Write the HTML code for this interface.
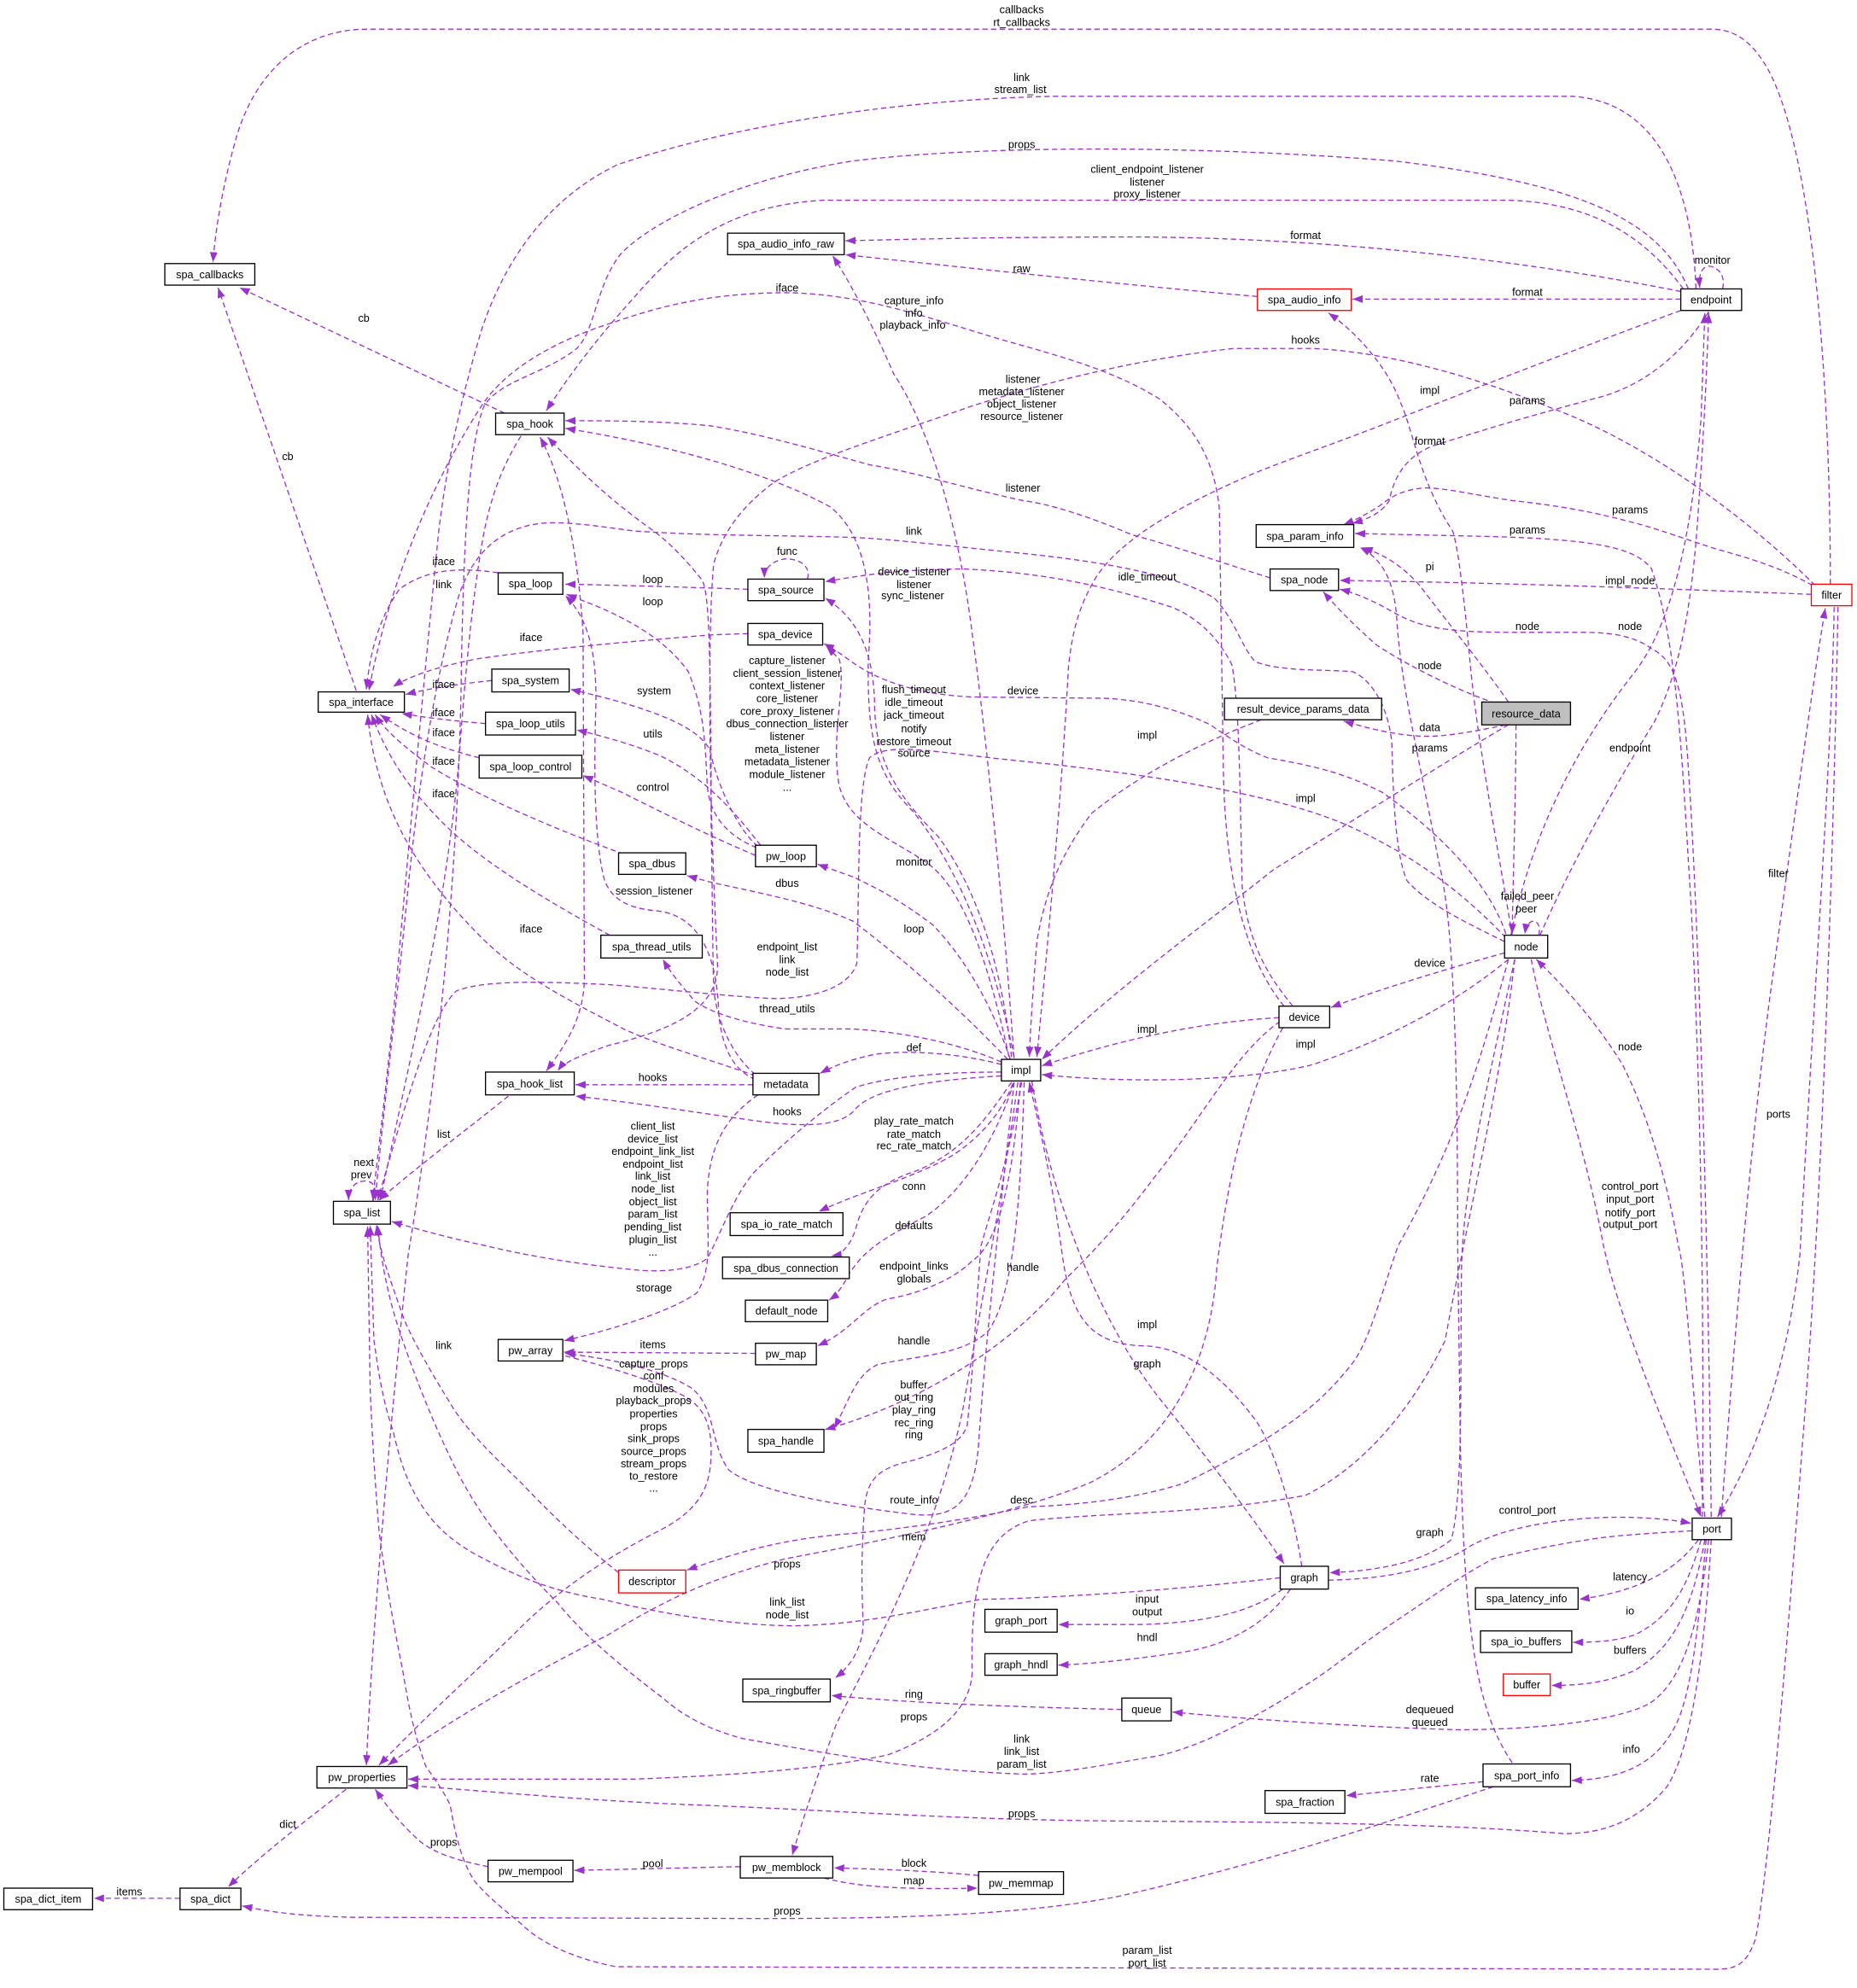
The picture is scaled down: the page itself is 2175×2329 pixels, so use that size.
<!DOCTYPE html>
<html><head><meta charset="utf-8"><style>
html,body{margin:0;padding:0;background:#fff;}
svg{display:block;}
text{font-family:"Liberation Sans",Arial,sans-serif;font-size:8.5px;fill:#000;text-anchor:middle;}
.e{fill:none;stroke:#9a32cd;stroke-width:0.9;stroke-dasharray:4.2,2.6;marker-end:url(#a);}
.n{fill:#fff;stroke:#000;stroke-width:0.9;}
.r{fill:#fff;stroke:#ff0000;stroke-width:0.9;}
.g{fill:#bfbfbf;stroke:#000;stroke-width:0.9;}
</style></head><body>
<svg width="2175" height="2329" viewBox="0 0 1465 1568.8" xmlns="http://www.w3.org/2000/svg">
<defs>
<marker id="a" markerUnits="userSpaceOnUse" markerWidth="8" markerHeight="6" viewBox="0 0 8 6" refX="8" refY="3" orient="auto-start-reverse"><path d="M0,0 L8,3 L0,6 z" fill="#9a32cd"/></marker>
</defs>
<rect width="1465" height="1568.8" fill="#fff"/>
<g>
<path class="e" d="M1444,461 C1444,300 1430,120 1395,55 C1382,32 1368,23 1350,23 L290,23 C235,23 200,60 186,110 C176,145 170,180 168,207"/>
<path class="e" d="M1338,228 C1335,150 1310,80 1240,76 L830,76 C700,79 575,100 487,130 C425,160 395,215 380,260 C362,320 352,370 346,420 C336,520 325,640 315,750 C305,860 298,910 294,947"/>
<path class="e" d="M1332,228 C1310,175 1250,145 1100,127 C950,115 780,114 673,127 C590,140 520,170 490,200 C470,225 470,260 455,275 C430,295 395,300 382,320 C370,350 366,420 364,525 C362,700 342,870 322,990 C305,1150 293,1300 289,1393"/>
<path class="e" d="M1328,228 C1300,190 1260,160 1190,158 L650,158 C570,162 530,200 500,235 C470,268 450,295 431,324"/>
<path class="e" d="M1326,230 C1200,205 1050,188 900,187 C780,187 710,189 667,190"/>
<path class="e" d="M1359,228 C1362,214 1352,210 1348,210 C1342,211 1340,217 1341,227"/>
<path class="e" d="M1326,236 L1067,236"/>
<path class="e" d="M992,234 C900,226 750,210 667,201"/>
<path class="e" d="M1013,794 C985,760 966,700 965,600 L962,402 C958,360 940,335 915,315 C880,293 840,282 790,268 C730,250 680,232 621,231 C560,231 520,242 485,254 C440,268 400,290 380,320 C335,390 305,470 291,545"/>
<path class="e" d="M800,835 C792,720 778,580 767,500 C757,420 735,340 705,295 C690,260 672,225 657,202"/>
<path class="e" d="M1432,462 C1380,410 1300,350 1224,322 C1170,300 1100,278 1036,275 L973,275 C900,283 830,300 765,321 C700,344 640,362 610,381 C585,400 570,420 563,445 C560,480 560,520 560,560 C560,620 563,700 566,760 C568,800 520,815 480,825 C460,832 445,838 440,845"/>
<path class="e" d="M1326,245 C1280,262 1200,292 1099,332 C1040,355 1000,368 977,379 C930,400 885,425 865,455 C850,480 846,500 843,525 C838,620 828,730 818,834"/>
<path class="e" d="M1348,246 C1330,275 1300,305 1256,315 C1220,325 1193,332 1130,352 C1110,360 1100,375 1096,395 C1090,405 1078,410 1067,413"/>
<path class="e" d="M1430,462 C1400,445 1370,438 1350,432 C1320,422 1300,415 1287,412 C1250,402 1220,398 1193,395 C1160,390 1140,385 1124,385 C1110,386 1100,390 1090,398 C1080,405 1070,410 1060,414"/>
<path class="e" d="M1343,1197 C1345,1000 1340,800 1332,680 C1325,560 1320,500 1303,449 C1290,432 1260,425 1160,423 L1069,421"/>
<path class="e" d="M1193,1391 C1165,1350 1155,1290 1152,1133 L1150,983 C1150,800 1145,720 1135,680 C1120,600 1105,540 1102,489 C1100,460 1092,442 1073,432"/>
<path class="e" d="M1429,469 C1350,466 1200,460 1057,458"/>
<path class="e" d="M1350,1197 C1348,1000 1340,700 1330,580 C1326,540 1320,520 1303,512 C1290,502 1271,499 1250,499 L1193,499 C1140,499 1120,495 1099,483 C1085,475 1070,468 1057,465"/>
<path class="e" d="M1180,555 C1150,545 1110,525 1086,509 C1070,495 1055,480 1044,467"/>
<path class="e" d="M1190,554 C1170,525 1145,495 1120,462 C1105,445 1090,437 1075,432"/>
<path class="e" d="M1188,572 C1160,578 1140,581 1127,581 C1110,581 1090,578 1060,569"/>
<path class="e" d="M1190,572 C1150,595 1067,648 1005,686 C950,730 880,780 822,836"/>
<path class="e" d="M1002,456 C970,446 930,432 893,422 C860,408 830,398 807,395 C760,385 720,372 687,367 C650,357 600,342 560,336 C520,332 480,332 446,332"/>
<path class="e" d="M800,834 C785,760 760,690 720,640 C690,610 684,580 685,520 C690,460 680,420 655,400 C600,370 520,350 446,338"/>
<path class="e" style="marker-start:url(#a)" d="M426,345 C440,370 455,420 460,500 L461,774 C460,800 450,820 431,845"/>
<path class="e" d="M596,848 C580,835 566,810 563,780 C562,740 562,700 561,650 L561,606 C560,520 560,470 554,458 C540,440 525,425 510,415 C490,400 470,385 432,345"/>
<path class="e" d="M411,344 C395,370 386,395 380,430 C372,480 368,520 362,600 C352,720 320,850 300,947"/>
<path class="e" d="M398,326 L189,227"/>
<path class="e" d="M281,545 L172,227"/>
<path class="e" d="M393,452 C360,447 335,450 315,465 C298,490 292,515 289,544"/>
<path class="e" d="M590,465 C560,464 500,462 446,461"/>
<path class="e" d="M597,669 C575,660 560,645 558,620 C556,580 555,560 543,530 C525,505 498,490 470,478 L447,469"/>
<path class="e" d="M637,457 C640,446 630,441 620,441 C610,442 603,448 603,456"/>
<path class="e" d="M1020,794 C1000,770 985,745 980,700 C978,620 978,560 972,525 C960,500 940,485 924,479 C880,465 830,452 760,449 C720,449 690,452 651,459"/>
<path class="e" d="M798,834 C790,760 770,700 740,660 C705,625 692,600 690,560 C690,520 680,490 651,472"/>
<path class="e" d="M1188,737 C1176,700 1140,660 1090,625 C1060,610 1040,605 1000,598 C985,592 975,586 955,572 C930,560 900,552 870,551 L767,550 C720,548 690,535 673,523 C662,515 656,511 650,508"/>
<path class="e" d="M796,834 C780,760 760,700 730,680 C700,660 670,650 662,620 C655,580 668,540 662,520 L652,510"/>
<path class="e" d="M590,500 L561,501 C500,506 430,512 376,520 C345,526 322,534 310,542"/>
<path class="e" d="M598,668 C582,655 566,620 560,592 C552,575 520,560 450,544"/>
<path class="e" d="M600,667 C585,648 560,615 520,596 C500,588 480,582 455,576"/>
<path class="e" d="M596,675 C560,660 520,640 490,625 L460,612"/>
<path class="e" d="M388,537 C360,540 340,543 320,548"/>
<path class="e" d="M383,571 C360,569 340,567 317,563"/>
<path class="e" d="M378,598 C355,592 330,585 300,564"/>
<path class="e" d="M492,674 C440,655 380,630 340,605 C320,590 305,578 296,564"/>
<path class="e" d="M481,738 C430,710 380,680 350,650 C320,620 305,595 293,564"/>
<path class="e" d="M596,849 C560,836 520,825 492,812 C450,790 410,770 380,740 C345,705 320,670 305,630 C296,605 292,585 290,564"/>
<path class="e" d="M795,836 C770,810 730,770 673,727 C640,712 600,705 560,696 L542,691"/>
<path class="e" d="M797,836 C785,800 765,760 736,730 C710,710 690,700 673,692 L645,682"/>
<path class="e" d="M596,852 C580,845 570,830 567,800 C566,760 555,724 520,719 C498,717 484,712 477,695 C470,670 468,620 470,560 C471,520 466,490 446,470"/>
<path class="e" d="M1188,740 C1150,700 1110,672 1060,650 C1000,625 900,610 800,600 C740,594 700,585 686,598 C676,620 678,700 676,760 C670,780 640,788 610,788 C570,786 520,780 480,777 C420,774 380,774 360,782 C340,800 320,870 298,947"/>
<path class="e" d="M790,838 C760,825 720,815 673,812 L620,812 C590,808 562,800 548,790 C536,776 528,766 523,757"/>
<path class="e" d="M790,840 C760,832 720,828 690,832 C672,836 660,840 647,847"/>
<path class="e" d="M790,849 C740,852 690,858 675,875 C665,888 640,890 600,885 C550,878 500,870 454,865"/>
<path class="e" d="M594,856 L454,856"/>
<path class="e" d="M401,865 C370,890 330,920 299,947"/>
<path class="e" d="M294,948 C298,938 295,932 288,932 C280,932 275,938 275,947"/>
<path class="e" d="M790,846 C740,846 700,850 675,858 C650,875 620,900 595,925 C578,945 568,975 558,993 C545,1003 520,1004 500,1002 C460,998 420,992 383,983 C350,976 330,970 309,964"/>
<path class="e" d="M799,855 C790,880 770,900 751,912 C720,930 680,940 646,956"/>
<path class="e" d="M798,854 C780,880 760,910 720,925 C690,935 680,950 675,970 C670,985 663,990 656,991"/>
<path class="e" d="M800,854 C785,900 760,940 730,960 C690,980 680,990 670,1005 C665,1015 660,1022 654,1026"/>
<path class="e" d="M805,854 C800,920 790,980 767,995 C750,1012 720,1022 700,1025 C680,1032 672,1050 645,1062"/>
<path class="e" d="M808,854 C805,950 800,1020 780,1050 C760,1070 720,1070 692,1077 C675,1085 670,1105 658,1127"/>
<path class="e" d="M1010,806 C975,830 950,880 910,930 C880,970 860,990 840,1010 C800,1060 740,1095 690,1115 C672,1122 662,1125 651,1128"/>
<path class="e" d="M806,854 C795,920 780,960 774,983 C770,1030 768,1080 763,1125 C758,1140 740,1146 722,1152 C695,1158 684,1165 682,1190 C679,1230 680,1260 681,1282 C680,1300 672,1314 659,1324"/>
<path class="e" d="M800,854 C790,950 778,1050 772,1140 C768,1190 750,1198 720,1195 C680,1190 600,1180 575,1160 C560,1140 565,1110 545,1095 C520,1080 480,1072 446,1068"/>
<path class="e" d="M598,864 C575,880 560,900 558,940 C558,980 562,1000 550,1020 C530,1035 480,1050 445,1058"/>
<path class="e" d="M596,1068 L445,1067"/>
<path class="e" d="M446,1070 C470,1076 520,1090 542,1103 C556,1112 561,1125 561,1145 C561,1170 555,1190 520,1208 C480,1228 440,1255 410,1285 C380,1315 340,1350 299,1393"/>
<path class="e" d="M803,854 C790,950 770,1050 760,1110 C740,1210 690,1300 660,1360 C645,1400 632,1440 625,1464"/>
<path class="e" d="M1190,757 C1170,830 1150,900 1103,983 C1090,1020 1080,1060 1066,1077 C1040,1110 1010,1133 935,1170 C900,1182 850,1188 811,1189 C760,1200 700,1208 662,1211 C620,1215 590,1222 542,1239"/>
<path class="e" d="M488,1241 C455,1215 430,1190 411,1170 C385,1145 365,1125 355,1107 C335,1075 322,1050 318,1039 C308,1010 300,990 297,967"/>
<path class="e" d="M1010,1245 C900,1258 800,1262 774,1262 C720,1272 680,1282 625,1283 C560,1282 500,1268 475,1262 C430,1255 400,1240 374,1226 C355,1215 345,1205 336,1193 C320,1170 315,1150 310,1129 C300,1100 297,1070 295,1058 L292,967"/>
<path class="e" d="M1335,1208 C1300,1210 1270,1212 1253,1215 C1220,1220 1200,1225 1178,1230 C1150,1245 1130,1260 1103,1278 C1070,1300 1050,1318 1028,1331 C1000,1350 975,1362 954,1372 C935,1380 920,1385 905,1387 C860,1395 830,1400 806,1400 C760,1398 730,1395 700,1391 C660,1385 620,1378 586,1372 C560,1365 540,1355 523,1340 C490,1315 460,1290 440,1265 C410,1235 380,1200 360,1160 C340,1120 325,1080 315,1050 C305,1020 300,990 298,967"/>
<path class="e" d="M1450,479 C1448,600 1440,900 1425,1100 C1410,1300 1395,1480 1385,1530 C1378,1550 1370,1554 1354,1554 L486,1552 C450,1545 425,1532 411,1518 C395,1505 383,1495 374,1484 C362,1465 358,1440 355,1424 C348,1410 340,1400 336,1394 C327,1370 322,1345 318,1320 C310,1280 303,1240 299,1208 C295,1160 293,1120 292,1096 L290,968"/>
<path class="e" d="M1358,1197 C1365,1100 1380,900 1400,760 C1415,650 1430,540 1440,480"/>
<path class="e" d="M1447,479 C1445,600 1430,800 1420,990 C1410,1080 1385,1150 1355,1197"/>
<path class="e" d="M1345,1197 C1335,1100 1330,1000 1324,983 C1315,930 1300,880 1280,840 C1255,800 1230,775 1212,757"/>
<path class="e" d="M1208,757 C1220,820 1250,900 1265,983 C1280,1050 1320,1140 1342,1197"/>
<path class="e" d="M1187,752 C1150,762 1090,780 1050,795"/>
<path class="e" d="M1190,757 C1150,790 1100,818 1036,840 C990,852 900,856 822,848"/>
<path class="e" d="M1009,803 C960,806 900,815 822,841"/>
<path class="e" d="M995,568 C950,585 900,610 861,642 C840,670 825,700 818,743 C815,780 813,810 812,834"/>
<path class="e" d="M1215,738 C1240,680 1280,610 1305,570 C1325,530 1335,480 1340,400 C1345,330 1347,280 1348,247"/>
<path class="e" d="M1192,738 C1210,650 1250,580 1290,530 C1320,490 1335,420 1342,330 L1345,247"/>
<path class="e" d="M1214,738 C1217,725 1205,722 1203,737"/>
<path class="e" d="M1195,757 C1175,850 1155,930 1153,1000 C1152,1100 1154,1180 1145,1215 C1120,1235 1080,1240 1049,1241"/>
<path class="e" d="M1027,1236 C1022,1200 1005,1140 990,1120 C960,1080 930,1062 900,1062 C860,1060 845,1040 838,990 C830,930 820,890 812,854"/>
<path class="e" d="M814,853 C830,950 870,1050 920,1110 C960,1160 990,1200 1013,1234"/>
<path class="e" d="M1048,1247 C1090,1246 1130,1240 1160,1220 C1200,1198 1280,1192 1334,1202"/>
<path class="e" d="M1340,1215 C1325,1235 1300,1255 1246,1262"/>
<path class="e" d="M1342,1215 C1332,1250 1320,1275 1290,1290 C1275,1295 1260,1296 1241,1296"/>
<path class="e" d="M1345,1215 C1335,1270 1320,1300 1290,1318 C1270,1327 1250,1330 1224,1330"/>
<path class="e" d="M1348,1215 C1340,1290 1325,1330 1300,1345 C1270,1360 1200,1365 1150,1365 C1080,1363 1000,1358 925,1351"/>
<path class="e" d="M1346,1215 C1340,1280 1335,1340 1320,1365 C1305,1392 1280,1404 1240,1405"/>
<path class="e" d="M1350,1215 C1345,1300 1335,1380 1315,1410 C1290,1440 1260,1447 1234,1447 C1150,1440 1050,1438 880,1437 C750,1436 650,1428 540,1424 C450,1420 380,1413 322,1409"/>
<path class="e" d="M1170,1406 L1062,1417"/>
<path class="e" d="M1178,1410 C1100,1436 1000,1470 880,1497 C800,1512 700,1514 600,1514 L280,1513 C230,1512 210,1508 191,1504"/>
<path class="e" d="M1012,1254 C990,1270 960,1280 900,1282 L835,1282"/>
<path class="e" d="M1018,1254 C1000,1280 970,1300 924,1305 C890,1310 860,1313 835,1314"/>
<path class="e" d="M885,1349 C800,1347 720,1344 656,1338"/>
<path class="e" d="M584,1473 L453,1476"/>
<path class="e" d="M772,1480 C730,1476 690,1475 658,1474"/>
<path class="e" d="M650,1482 C680,1490 720,1491 771,1490"/>
<path class="e" d="M385,1473 C360,1468 340,1462 328,1450 C315,1438 305,1425 296,1412"/>
<path class="e" d="M273,1412 C250,1430 210,1460 180,1489"/>
<path class="e" d="M142,1498 L74,1498"/>
<path class="e" d="M1012,811 C985,860 970,920 960,1000 C955,1080 920,1140 860,1170 C800,1195 700,1215 620,1230 C560,1245 520,1265 480,1290 C420,1320 350,1360 306,1393"/>
<path class="e" d="M1195,757 C1185,850 1160,950 1140,1058 C1110,1120 1070,1160 1030,1180 C950,1195 880,1193 812,1200 C780,1210 765,1240 767,1320 C765,1350 740,1370 700,1385 C650,1395 600,1400 500,1404 L322,1404"/>
<path class="e" d="M1187,743 C1150,725 1125,712 1110,695 C1099,670 1099,610 1098,586 C1095,555 1080,535 1067,530 C1040,528 1010,530 990,522 C978,508 975,490 958,472 C930,455 880,444 800,436 C740,430 700,425 670,424 C600,422 560,423 500,419 C470,415 440,410 420,414 C390,420 372,440 362,470 C347,520 332,600 322,700 C312,800 302,880 296,947"/>
<path class="e" d="M1193,738 C1180,660 1165,580 1160,525 C1155,470 1150,430 1146,419 C1120,380 1115,340 1105,318 C1095,290 1070,262 1048,247"/>
<path class="e" d="M1196,572 C1196,620 1194,680 1193,737"/>
</g>
<g>
<rect class="n" x="130" y="208" width="71" height="17"/><text x="165.5" y="219.5">spa_callbacks</text>
<rect class="n" x="391" y="326" width="54" height="17"/><text x="418" y="337.5">spa_hook</text>
<rect class="n" x="393" y="452" width="51" height="17"/><text x="418.5" y="463.5">spa_loop</text>
<rect class="n" x="574" y="184" width="92" height="17"/><text x="620" y="195.5">spa_audio_info_raw</text>
<rect class="n" x="590" y="457" width="60" height="17"/><text x="620" y="468.5">spa_source</text>
<rect class="n" x="590" y="492" width="59" height="17"/><text x="619.5" y="503.5">spa_device</text>
<rect class="r" x="992" y="228" width="74" height="17"/><text x="1029" y="239.5">spa_audio_info</text>
<rect class="n" x="1326" y="228" width="48" height="17"/><text x="1350" y="239.5">endpoint</text>
<rect class="n" x="991" y="414" width="77" height="18"/><text x="1029.5" y="426">spa_param_info</text>
<rect class="n" x="1002" y="449" width="54" height="17"/><text x="1029" y="460.5">spa_node</text>
<rect class="r" x="1429" y="461" width="32" height="17"/><text x="1445" y="472.5">filter</text>
<rect class="n" x="251" y="546" width="68" height="16"/><text x="285" y="557">spa_interface</text>
<rect class="n" x="388" y="528" width="61" height="18"/><text x="418.5" y="540">spa_system</text>
<rect class="n" x="383" y="562" width="71" height="18"/><text x="418.5" y="574">spa_loop_utils</text>
<rect class="n" x="378" y="596" width="81" height="18"/><text x="418.5" y="608">spa_loop_control</text>
<rect class="n" x="383" y="846" width="70" height="18"/><text x="418" y="858">spa_hook_list</text>
<rect class="n" x="263" y="948" width="45" height="18"/><text x="285.5" y="960">spa_list</text>
<rect class="n" x="596" y="667" width="48" height="17"/><text x="620" y="678.5">pw_loop</text>
<rect class="n" x="488" y="673" width="53" height="17"/><text x="514.5" y="684.5">spa_dbus</text>
<rect class="n" x="474" y="738" width="80" height="18"/><text x="514" y="750">spa_thread_utils</text>
<rect class="n" x="790" y="836" width="31" height="17"/><text x="805.5" y="847.5">impl</text>
<rect class="n" x="594" y="847" width="52" height="17"/><text x="620" y="858.5">metadata</text>
<rect class="n" x="576" y="957" width="89" height="18"/><text x="620.5" y="969">spa_io_rate_match</text>
<rect class="n" x="966" y="551" width="124" height="17"/><text x="1028" y="562.5">result_device_params_data</text>
<rect class="g" x="1169" y="554" width="70" height="18"/><text x="1204" y="566">resource_data</text>
<rect class="n" x="1187" y="738" width="34" height="18"/><text x="1204" y="750">node</text>
<rect class="n" x="1009" y="794" width="40" height="17"/><text x="1029" y="805.5">device</text>
<rect class="n" x="393" y="1057" width="51" height="17"/><text x="418.5" y="1068.5">pw_array</text>
<rect class="r" x="488" y="1239" width="53" height="18"/><text x="514.5" y="1251">descriptor</text>
<rect class="n" x="250" y="1394" width="71" height="17"/><text x="285.5" y="1405.5">pw_properties</text>
<rect class="n" x="3" y="1490" width="70" height="17"/><text x="38" y="1501.5">spa_dict_item</text>
<rect class="n" x="142" y="1490" width="48" height="17"/><text x="166" y="1501.5">spa_dict</text>
<rect class="n" x="385" y="1468" width="67" height="17"/><text x="418.5" y="1479.5">pw_mempool</text>
<rect class="n" x="570" y="992" width="100" height="17"/><text x="620" y="1003.5">spa_dbus_connection</text>
<rect class="n" x="588" y="1026" width="65" height="17"/><text x="620.5" y="1037.5">default_node</text>
<rect class="n" x="596" y="1060" width="48" height="17"/><text x="620" y="1071.5">pw_map</text>
<rect class="n" x="590" y="1128" width="60" height="18"/><text x="620" y="1140">spa_handle</text>
<rect class="n" x="777" y="1270" width="57" height="18"/><text x="805.5" y="1282">graph_port</text>
<rect class="n" x="777" y="1305" width="57" height="17"/><text x="805.5" y="1316.5">graph_hndl</text>
<rect class="n" x="586" y="1325" width="69" height="18"/><text x="620.5" y="1337">spa_ringbuffer</text>
<rect class="n" x="885" y="1340" width="39" height="18"/><text x="904.5" y="1352">queue</text>
<rect class="n" x="584" y="1465" width="73" height="17"/><text x="620.5" y="1476.5">pw_memblock</text>
<rect class="n" x="772" y="1477" width="67" height="18"/><text x="805.5" y="1489">pw_memmap</text>
<rect class="n" x="1010" y="1236" width="38" height="18"/><text x="1029" y="1248">graph</text>
<rect class="n" x="1335" y="1198" width="31" height="17"/><text x="1350.5" y="1209.5">port</text>
<rect class="n" x="1164" y="1253" width="81" height="17"/><text x="1204.5" y="1264.5">spa_latency_info</text>
<rect class="n" x="1168" y="1287" width="72" height="17"/><text x="1204" y="1298.5">spa_io_buffers</text>
<rect class="r" x="1186" y="1321" width="37" height="17"/><text x="1204.5" y="1332.5">buffer</text>
<rect class="n" x="1170" y="1392" width="69" height="18"/><text x="1204.5" y="1404">spa_port_info</text>
<rect class="n" x="998" y="1413" width="63" height="18"/><text x="1029.5" y="1425">spa_fraction</text>
</g>
<g>
<text x="806" y="10.5">callbacks</text><text x="806" y="20.5">rt_callbacks</text>
<text x="806" y="64">link</text><text x="805" y="73.5">stream_list</text>
<text x="806" y="117">props</text>
<text x="905" y="136.5">client_endpoint_listener</text><text x="905" y="146.5">listener</text><text x="905" y="156">proxy_listener</text>
<text x="1030" y="188.5">format</text>
<text x="1351" y="208">monitor</text>
<text x="1205" y="233.5">format</text>
<text x="806" y="215">raw</text>
<text x="621" y="230">iface</text>
<text x="721" y="240">capture_info</text><text x="721" y="250">info</text><text x="720" y="259.5">playback_info</text>
<text x="1030" y="271">hooks</text>
<text x="1128" y="311">impl</text>
<text x="1205" y="319">params</text>
<text x="807" y="302">listener</text><text x="806" y="312">metadata_listener</text><text x="806" y="321.5">object_listener</text><text x="806" y="331.5">resource_listener</text>
<text x="1128" y="351">format</text>
<text x="807" y="388">listener</text>
<text x="1286" y="405">params</text>
<text x="1205" y="421">params</text>
<text x="721" y="422">link</text>
<text x="1128" y="450">pi</text>
<text x="621" y="438">func</text>
<text x="905" y="458">idle_timeout</text>
<text x="1286" y="461">impl_node</text>
<text x="721" y="454">device_listener</text><text x="721" y="464">listener</text><text x="720" y="473">sync_listener</text>
<text x="515" y="460">loop</text><text x="515" y="477.5">loop</text>
<text x="350" y="446">iface</text><text x="350" y="464">link</text>
<text x="419" y="506">iface</text>
<text x="1205" y="497">node</text><text x="1286" y="497">node</text>
<text x="1128" y="528">node</text>
<text x="1128" y="577">data</text>
<text x="1128" y="593">params</text>
<text x="1286" y="593">endpoint</text>
<text x="1030" y="633">impl</text>
<text x="1205" y="710">failed_peer</text><text x="1204" y="720">peer</text>
<text x="1128" y="763">device</text>
<text x="1030" y="827">impl</text>
<text x="1286" y="829">node</text>
<text x="1403" y="692">filter</text>
<text x="1403" y="882">ports</text>
<text x="1286" y="939">control_port</text><text x="1286" y="949">input_port</text><text x="1286" y="960">notify_port</text><text x="1286" y="969">output_port</text>
<text x="350" y="543">iface</text><text x="350" y="565">iface</text><text x="350" y="581">iface</text><text x="350" y="603.5">iface</text><text x="350" y="629">iface</text><text x="419" y="736">iface</text>
<text x="350" y="898">list</text>
<text x="287" y="920">next</text><text x="285" y="930">prev</text>
<text x="516" y="548">system</text><text x="515" y="582">utils</text><text x="515" y="624">control</text>
<text x="621" y="524">capture_listener</text><text x="621" y="534">client_session_listener</text><text x="621" y="544">context_listener</text><text x="621" y="554">core_listener</text><text x="621" y="564">core_proxy_listener</text><text x="621" y="574">dbus_connection_listener</text><text x="621" y="584">listener</text><text x="621" y="594">meta_listener</text><text x="621" y="604">metadata_listener</text><text x="621" y="614">module_listener</text><text x="621" y="624">...</text>
<text x="721" y="547">flush_timeout</text><text x="721" y="557">idle_timeout</text><text x="721" y="567">jack_timeout</text><text x="721" y="578">notify</text><text x="721" y="588">restore_timeout</text><text x="721" y="597">source</text>
<text x="807" y="548">device</text>
<text x="905" y="583">impl</text>
<text x="721" y="683">monitor</text>
<text x="621" y="700">dbus</text>
<text x="516" y="706">session_listener</text>
<text x="721" y="736">loop</text>
<text x="621" y="750">endpoint_list</text><text x="621" y="760">link</text><text x="621" y="770">node_list</text>
<text x="621" y="799">thread_utils</text>
<text x="905" y="815">impl</text>
<text x="721" y="829.5">def</text>
<text x="515" y="853">hooks</text>
<text x="621" y="880">hooks</text>
<text x="721" y="887.5">play_rate_match</text><text x="721" y="898">rate_match</text><text x="721" y="907">rec_rate_match</text>
<text x="515" y="891.5">client_list</text><text x="515" y="901.5">device_list</text><text x="515" y="911.5">endpoint_link_list</text><text x="515" y="921.5">endpoint_list</text><text x="515" y="931">link_list</text><text x="515" y="941">node_list</text><text x="515" y="951">object_list</text><text x="515" y="961">param_list</text><text x="515" y="971">pending_list</text><text x="515" y="981">plugin_list</text><text x="515" y="991">...</text>
<text x="721" y="939">conn</text>
<text x="721" y="970">defaults</text>
<text x="721" y="1002">endpoint_links</text><text x="721" y="1012">globals</text>
<text x="807" y="1003">handle</text>
<text x="516" y="1019">storage</text>
<text x="905" y="1048">impl</text>
<text x="721" y="1061">handle</text>
<text x="515" y="1064">items</text>
<text x="905" y="1079">graph</text>
<text x="350" y="1064.5">link</text>
<text x="515.6" y="1079">capture_props</text><text x="515.6" y="1088.5">conf</text><text x="515.6" y="1098.6">modules</text><text x="515.6" y="1108">playback_props</text><text x="515.6" y="1118.4">properties</text><text x="515.6" y="1128.5">props</text><text x="515.6" y="1138">sink_props</text><text x="515.6" y="1148">source_props</text><text x="515.6" y="1158">stream_props</text><text x="515.6" y="1167.6">to_restore</text><text x="515.6" y="1177">...</text>
<text x="721" y="1095.5">buffer</text><text x="721" y="1105.5">out_ring</text><text x="721" y="1115.5">play_ring</text><text x="721" y="1125.7">rec_ring</text><text x="721" y="1135">ring</text>
<text x="721" y="1186.5">route_info</text><text x="806" y="1186.5">desc</text>
<text x="721" y="1215.6">mem</text>
<text x="621" y="1237">props</text>
<text x="1128" y="1212">graph</text>
<text x="1205" y="1194.6">control_port</text>
<text x="1286" y="1247">latency</text>
<text x="621" y="1267">link_list</text><text x="621" y="1277">node_list</text>
<text x="905" y="1264.6">input</text><text x="905" y="1274.8">output</text>
<text x="1286" y="1274">io</text>
<text x="905" y="1295">hndl</text>
<text x="1286" y="1305">buffers</text>
<text x="721" y="1339.7">ring</text>
<text x="1128" y="1352">dequeued</text><text x="1128" y="1362">queued</text>
<text x="721" y="1357.5">props</text>
<text x="806" y="1375">link</text><text x="806" y="1385">link_list</text><text x="806" y="1395">param_list</text>
<text x="1287" y="1383.2">info</text>
<text x="1128" y="1406">rate</text>
<text x="806" y="1434">props</text>
<text x="227" y="1442.5">dict</text>
<text x="350" y="1456.6">props</text>
<text x="721" y="1473">block</text>
<text x="515" y="1473.5">pool</text>
<text x="721" y="1487">map</text>
<text x="102" y="1495.6">items</text>
<text x="621" y="1511">props</text>
<text x="905" y="1542">param_list</text><text x="905" y="1552">port_list</text>
<text x="287" y="254">cb</text>
<text x="227" y="363">cb</text>
</g>
</svg>
</body></html>
